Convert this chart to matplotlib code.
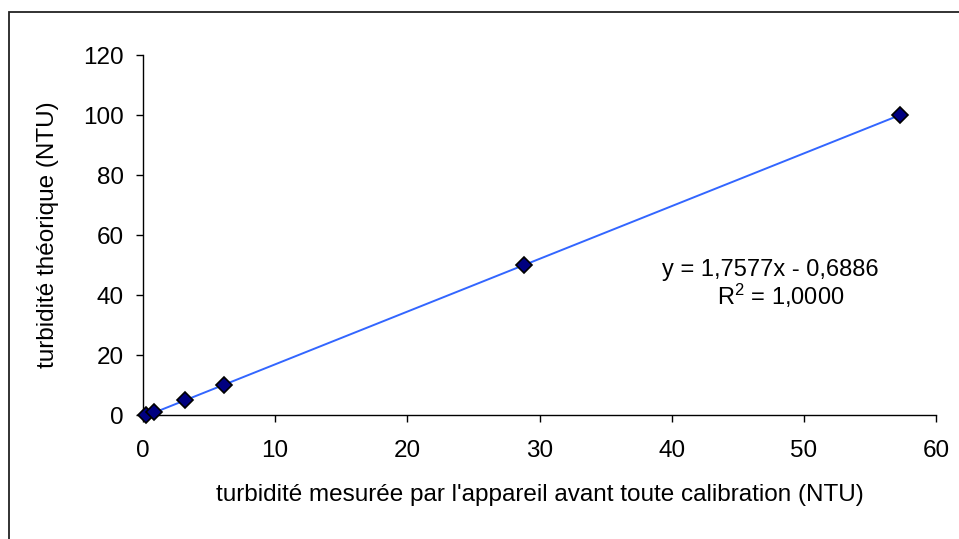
import numpy as np
import matplotlib
matplotlib.use('Agg')
from matplotlib import pyplot as plt
from matplotlib.patches import Rectangle

plt.rcParams['font.family'] = ['Liberation Sans', 'DejaVu Sans']

# calibration points
measured = [0.25, 0.85, 3.2, 6.1, 28.8, 57.3]
theoretical = [0, 1, 5, 10, 50, 100]
slope = 1.7577
intercept = -0.6886
r2 = 1.0000

x_ticks = [0, 10, 20, 30, 40, 50, 60]
y_ticks = [0, 20, 40, 60, 80, 100, 120]

W, H = 959, 539
fig = plt.figure(figsize=(W / 100, H / 100), dpi=100)
ax = fig.add_axes([143 / W, 1 - 415 / H, (936 - 143) / W, (415 - 55) / H])

# frame around the chart area
fig.patches.append(Rectangle((9 / W, -0.1), 1.2, 1 - 12 / H + 0.1,
                             transform=fig.transFigure, fill=False,
                             edgecolor='#222222', linewidth=1.3))

# linear trendline over the measured range
xs = np.array([min(measured), max(measured)])
ax.plot(xs, slope * xs + intercept, color='#3366FF', linewidth=1.4, zorder=2)
ax.plot(measured, theoretical, linestyle='none', marker='D', markersize=8,
        markerfacecolor='#000080', markeredgecolor='black', markeredgewidth=1.2,
        zorder=3, clip_on=False)

ax.set_xlim(0, 60)
ax.set_ylim(0, 120)
ax.set_xticks(x_ticks)
ax.set_yticks(y_ticks)
for side in ['top', 'right']:
    ax.spines[side].set_visible(False)
for side in ['left', 'bottom']:
    ax.spines[side].set_linewidth(1.0)
ax.tick_params(axis='both', direction='out', length=5, width=1.0, labelsize=17.5)
ax.tick_params(axis='y', pad=9)
ax.tick_params(axis='x', pad=13)

ax.set_xlabel("turbidité mesurée par l'appareil avant toute calibration (NTU)",
              fontsize=17.5, labelpad=16)
ax.set_ylabel('turbidité théorique (NTU)', fontsize=17.5, labelpad=17)

eq = 'y = {:.4f}x - {:.4f}'.format(slope, -intercept).replace('.', ',')
rr = '$\\mathregular{{R^2}}$ = {:.4f}'.format(r2).replace('.', ',')
fig.text(770 / W, 1 - 270 / H, eq, fontsize=17, ha='center', va='center')
fig.text(781 / W, 1 - 296 / H, rr, fontsize=17, ha='center', va='center')

fig.savefig('out.png', dpi=100)
